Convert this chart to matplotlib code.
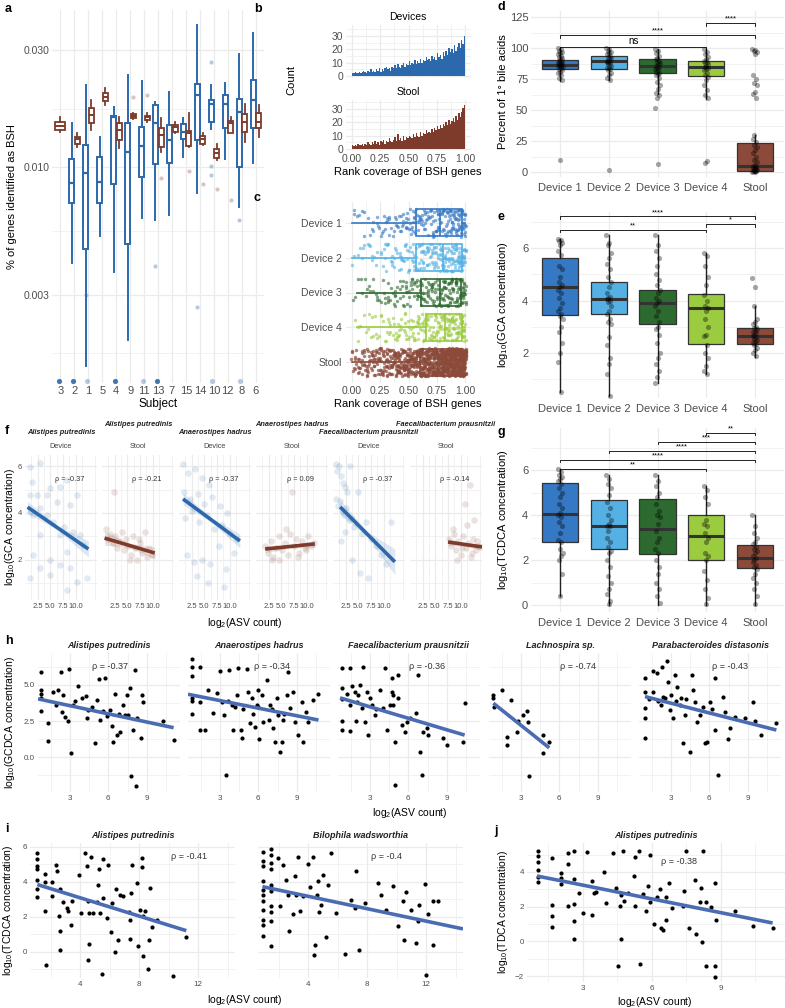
import numpy as np
import matplotlib
matplotlib.use('Agg')
import matplotlib.pyplot as plt
from matplotlib.ticker import NullFormatter

plt.rcParams['font.family'] = ['Liberation Sans', 'DejaVu Sans']
plt.rcParams['mathtext.fontset'] = 'custom'
plt.rcParams['mathtext.rm'] = 'Liberation Sans'
plt.rcParams['mathtext.default'] = 'regular'

# ---------------- data ----------------
# panel a: box stats per subject (device / stool), nan = no device box
a_subjects = ['3', '2', '1', '5', '4', '9', '11', '13', '7', '15', '14', '10', '12', '8', '6']
a_dev_lo = [np.nan, 0.00406, 0.00154, 0.00523, 0.00373, 0.00197, 0.0062, 0.00608, 0.00637, 0.0110, 0.00783, 0.0143, 0.0108, 0.00687, 0.0104]
a_dev_q1 = [np.nan, 0.00713, 0.00462, 0.00713, 0.00853, 0.00485, 0.0091, 0.01028, 0.0104, 0.0130, 0.0129, 0.0153, 0.0144, 0.0100, 0.0144]
a_dev_med = [np.nan, 0.0086, 0.00945, 0.00869, 0.0160, 0.0115, 0.0122, 0.0151, 0.0129, 0.0139, 0.0197, 0.0181, 0.0181, 0.0168, 0.0187]
a_dev_q3 = [np.nan, 0.01078, 0.0123, 0.0110, 0.0161, 0.0151, 0.01456, 0.0179, 0.0148, 0.0150, 0.0218, 0.0187, 0.0197, 0.0189, 0.0226]
a_dev_hi = [np.nan, 0.0151, 0.0216, 0.01325, 0.0176, 0.0238, 0.0224, 0.0184, 0.0202, 0.0159, 0.0380, 0.0216, 0.0220, 0.0289, 0.0352]
a_st_lo = [0.0139, 0.0121, 0.0142, 0.0179, 0.01196, 0.0157, 0.0152, 0.0115, 0.0138, 0.0121, 0.0123, 0.0107, 0.0138, 0.0126, 0.0133]
a_st_q1 = [0.01416, 0.0124, 0.0151, 0.0186, 0.0129, 0.0159, 0.0156, 0.01207, 0.0139, 0.0122, 0.0124, 0.0109, 0.0138, 0.0139, 0.0144]
a_st_med = [0.0147, 0.0130, 0.0163, 0.0193, 0.0142, 0.0161, 0.0160, 0.0135, 0.0146, 0.0138, 0.0130, 0.0114, 0.0151, 0.0153, 0.0153]
a_st_q3 = [0.0153, 0.01325, 0.0174, 0.0200, 0.0151, 0.0164, 0.0161, 0.0144, 0.0148, 0.0140, 0.0134, 0.01184, 0.0154, 0.0164, 0.0166]
a_st_hi = [0.0160, 0.0138, 0.0188, 0.0210, 0.0160, 0.0166, 0.0166, 0.0159, 0.0153, 0.0166, 0.0138, 0.0124, 0.0160, 0.0181, 0.0179]
a_dev_out = [('1', 0.0030), ('13', 0.00394), ('14', 0.00268), ('10', 0.0268), ('10', 0.0101), ('10', 0.0093), ('8', 0.00608)]
a_st_out = [('9', 0.0193), ('11', 0.0196), ('13', 0.00902), ('15', 0.00963), ('14', 0.0085), ('10', 0.0081), ('12', 0.00733)]
a_zero_subj = ['3', '2', '1', '4', '11', '13', '10', '8']
a_zero_dark = [True, True, False, True, False, True, False, False]

# panel b: histogram counts of rank coverage (80 bins on 0..1)
b_dev_counts = [2, 2, 3, 2, 2, 3, 2, 3, 4, 3, 2, 4, 3, 5, 3, 4, 3, 5, 4, 6, 3, 5, 4, 6, 7, 5, 6, 4, 7, 6,
                8, 6, 9, 7, 6, 8, 10, 7, 9, 8, 11, 8, 10, 9, 12, 9, 11, 10, 13, 10, 12, 11, 14, 12, 13, 11, 15, 13, 14, 12,
                17, 14, 16, 13, 18, 15, 19, 16, 21, 18, 20, 17, 23, 19, 22, 25, 21, 27, 24, 30]
b_stool_counts = [3, 2, 3, 2, 4, 3, 3, 4, 2, 4, 3, 5, 4, 3, 5, 4, 6, 4, 5, 3, 6, 5, 7, 4, 6, 5, 8, 6, 5, 7,
                  9, 6, 11, 7, 8, 6, 10, 7, 9, 8, 10, 9, 8, 11, 9, 12, 10, 9, 13, 10, 12, 11, 14, 12, 13, 12, 15, 13, 16, 14,
                  17, 15, 18, 16, 19, 17, 20, 18, 22, 19, 21, 23, 20, 25, 22, 27, 24, 28, 31, 33]

# panel c: horizontal box stats
c_groups = ['Device 1', 'Device 2', 'Device 3', 'Device 4', 'Stool']
c_lo = [0.0, 0.0, 0.05, 0.05, 0.0]
c_q1 = [0.57, 0.57, 0.61, 0.65, 0.6]
c_med = [0.78, 0.8, 0.78, 0.82, 0.8]
c_q3 = [0.97, 0.97, 0.96, 0.97, 0.97]
c_hi = [1.0, 1.0, 1.0, 1.0, 1.0]

# panels d, e, g
groups = ['Device 1', 'Device 2', 'Device 3', 'Device 4', 'Stool']
d_lo = [73.4, 74, 63, 59, 0]
d_q1 = [83, 83, 80, 77.4, 0.8]
d_med = [86.3, 89.5, 86, 84.7, 4.8]
d_q3 = [90.3, 93.5, 91, 89.5, 23.4]
d_hi = [100, 100, 99, 99, 30]
d_pts = [[100, 99, 98, 97, 96, 95, 94, 93, 92, 91, 90, 89.5, 89, 88, 88, 87.5, 87, 86.5, 86, 86, 85.5, 85, 84, 83, 82, 81, 80, 78, 76, 74.5, 9.5],
         [100, 99, 98, 97, 96, 95, 94, 93, 92, 91, 90, 89.5, 89, 88.5, 88, 87, 86, 85, 84, 83, 82, 80, 78, 76, 74.5, 1.5],
         [99, 98, 96, 94, 92, 91, 90, 89, 88, 87, 86, 85, 84, 83, 82, 81, 80, 79, 78, 76, 73, 70, 67, 64, 62, 60, 52, 6.5],
         [99, 97, 95, 93, 91, 90, 89, 88, 87, 86, 85, 84, 83, 82, 80, 78, 77, 74, 70, 66, 62, 59.5, 9, 7.5],
         [99, 98.5, 98, 97, 95, 78, 75, 72, 70, 65, 63, 60, 30, 27, 24, 22, 20, 18, 15, 12, 10, 8, 6, 5, 4, 3.5, 3, 2.5, 2, 1.5, 1, 1, 0.5, 0.5, 0.3, 0.2]]
d_brackets = [(0, 3, 101, 'ns'), (0, 4, 110.5, '****'), (3, 4, 120, '****')]

e_lo = [0.5, 0.38, 0.85, 1.2, 1.85]
e_q1 = [3.46, 3.5, 3.1, 2.35, 2.35]
e_med = [4.5, 4.05, 3.9, 3.7, 2.65]
e_q3 = [5.6, 4.7, 4.4, 4.25, 2.97]
e_hi = [6.35, 6.5, 6.5, 5.8, 3.8]
e_pts = [[6.35, 6.3, 6.25, 6.2, 6.1, 5.9, 5.75, 5.3, 5.2, 4.9, 4.7, 4.6, 4.5, 4.4, 4.3, 4.1, 3.9, 3.7, 3.6, 3.5, 3.4, 3.3, 3.0, 2.8, 2.4, 2.0, 1.65, 0.5],
         [6.5, 6.2, 6.1, 5.8, 5.6, 5.4, 5.2, 4.9, 4.7, 4.5, 4.3, 4.15, 4.1, 4.05, 4.0, 3.95, 3.8, 3.6, 3.5, 3.3, 3.2, 3.1, 2.6, 2.3, 1.8, 1.6, 1.2, 0.35],
         [6.5, 6.1, 5.9, 5.6, 5.3, 5.0, 4.8, 4.6, 4.4, 4.3, 4.1, 4.0, 3.9, 3.8, 3.6, 3.4, 3.2, 3.0, 2.9, 2.7, 2.4, 2.0, 1.8, 1.6, 1.3, 1.1, 0.85],
         [5.8, 5.7, 5.3, 4.9, 4.6, 4.2, 4.0, 3.8, 3.7, 3.6, 3.3, 3.0, 2.7, 2.65, 2.3, 2.0, 1.8, 1.5, 1.3, 1.2],
         [4.85, 4.5, 3.8, 3.3, 3.2, 3.1, 3.0, 2.95, 2.9, 2.85, 2.8, 2.75, 2.7, 2.65, 2.6, 2.55, 2.5, 2.45, 2.4, 2.35, 2.3, 2.2, 2.1, 2.0, 1.9]]
e_brackets = [(0, 3, 6.7, '**'), (3, 4, 6.9, '*'), (0, 4, 7.2, '****')]

g_lo = [0.4, 0.0, 0.0, 0.0, 0.0]
g_q1 = [2.78, 2.47, 2.25, 2.0, 1.64]
g_med = [4.06, 3.53, 3.4, 3.05, 2.1]
g_q3 = [5.43, 4.68, 4.7, 4.0, 2.65]
g_hi = [6.05, 5.8, 5.8, 5.3, 4.0]
g_pts = [[6.05, 5.9, 5.8, 5.7, 5.6, 5.5, 5.4, 5.2, 5.0, 4.8, 4.5, 4.3, 4.1, 4.0, 3.9, 3.7, 3.5, 3.2, 2.9, 2.8, 2.5, 2.3, 2.2, 2.0, 1.4, 0.4],
         [5.8, 5.6, 5.4, 5.2, 4.9, 4.6, 4.3, 4.0, 3.8, 3.6, 3.5, 3.5, 3.3, 3.0, 2.8, 2.6, 2.4, 2.3, 2.0, 1.7, 1.3, 1.0, 0.7, 0.5, 0.2, 0.05],
         [5.8, 5.5, 5.3, 5.0, 4.8, 4.5, 4.2, 4.0, 3.9, 3.6, 3.3, 3.0, 2.8, 2.5, 2.3, 2.0, 1.7, 1.4, 1.0, 0.7, 0.4, 0.1],
         [5.3, 5.1, 4.8, 4.5, 3.8, 3.6, 3.5, 3.2, 3.0, 2.8, 2.3, 2.2, 2.0, 1.5, 1.1, 0.7, 0.3, 0.05],
         [4.0, 3.5, 3.2, 3.0, 2.8, 2.7, 2.6, 2.5, 2.4, 2.3, 2.2, 2.1, 2.0, 1.9, 1.8, 1.7, 1.6, 1.4, 1.2, 1.0, 0.7, 0.4, 0.05]]
g_brackets = [(0, 3, 6.05, '**'), (0, 4, 6.45, '****'), (1, 4, 6.85, '****'), (2, 4, 7.25, '***'), (3, 4, 7.65, '**')]

# panel f: six facets (species x source)
f_species = ['Alistipes putredinis', 'Alistipes putredinis', 'Anaerostipes hadrus',
             'Anaerostipes hadrus', 'Faecalibacterium prausnitzii', 'Faecalibacterium prausnitzii']
f_source = ['Device', 'Stool', 'Device', 'Stool', 'Device', 'Stool']
f_rho = ['ρ = -0.37', 'ρ = -0.21', 'ρ = -0.37', 'ρ = 0.09', 'ρ = -0.37', 'ρ = -0.14']
f1_pts = [(1.0, 5.99), (1.3, 5.35), (1.0, 4.77), (2.3, 4.77), (2.9, 6.14), (4.3, 4.77), (4.9, 5.06), (6.9, 5.13), (8.2, 5.42),
          (1.0, 4.06), (1.6, 3.91), (2.9, 4.2), (4.3, 3.91), (5.6, 3.63), (7.6, 3.41), (8.9, 4.34), (9.5, 3.2), (10.8, 3.05),
          (11.5, 2.62), (1.6, 2.19), (2.9, 1.62), (4.9, 1.33), (6.9, 1.76), (8.2, 2.34), (8.9, 1.62), (1.0, 1.19), (10.2, 1.05),
          (12.2, 1.19), (8.2, 0.69), (4.9, 1.98), (6.9, 3.05), (10.2, 4.77), (2.9, 3.05), (6.3, 4.49)]
f2_pts = [(0.8, 3.3), (1.2, 2.9), (1.6, 3.1), (2.1, 2.7), (2.6, 3.0), (3.0, 2.5), (3.4, 2.8), (3.9, 3.2), (4.3, 2.4), (4.8, 2.9),
          (5.2, 2.6), (5.7, 2.2), (6.1, 3.0), (6.6, 2.5), (7.0, 2.0), (7.5, 2.7), (7.9, 2.3), (8.4, 3.2), (8.8, 2.1), (9.3, 2.5),
          (9.8, 2.2), (2.4, 4.9), (5.5, 2.0), (7.2, 2.9)]
f3_pts = [(0.8, 6.1), (1.8, 5.7), (3.2, 5.9), (4.5, 5.5), (6.0, 5.2), (1.0, 4.9), (2.2, 4.6), (3.8, 4.8), (5.0, 4.4), (6.5, 4.7),
          (8.0, 4.3), (9.5, 4.0), (1.2, 3.8), (2.6, 4.1), (4.0, 3.6), (5.5, 3.9), (7.0, 3.3), (8.5, 3.5), (10.0, 3.1), (11.5, 2.9),
          (1.5, 2.2), (3.0, 1.9), (4.6, 2.0), (6.2, 1.8), (7.8, 2.6), (9.2, 1.6), (10.8, 2.3), (3.5, 1.3), (5.8, 1.0), (8.8, 0.8)]
f4_pts = [(1.8, 2.6), (2.3, 2.3), (2.9, 2.8), (3.4, 2.1), (4.0, 2.5), (4.6, 3.0), (5.1, 2.4), (5.7, 2.7), (6.3, 2.2), (6.8, 3.1),
          (7.4, 2.6), (7.9, 2.9), (8.5, 2.3), (9.1, 2.8), (9.6, 2.5), (10.2, 3.0), (10.8, 2.6), (11.4, 2.7), (3.2, 2.0), (6.0, 3.3),
          (8.2, 2.1), (4.5, 2.0), (7.1, 4.9), (9.9, 2.4)]
f5_pts = [(0.5, 6.1), (0.8, 5.8), (1.2, 6.0), (1.5, 5.6), (1.9, 5.3), (2.3, 5.1), (2.8, 4.9), (3.3, 6.0), (0.6, 4.6), (1.0, 4.3),
          (1.4, 4.5), (1.8, 4.1), (2.2, 3.9), (2.6, 4.2), (3.1, 3.7), (3.6, 3.8), (4.2, 3.4), (5.0, 4.9), (5.8, 3.1), (6.6, 3.6),
          (7.5, 2.9), (8.5, 2.6), (9.5, 2.2), (10.5, 1.8), (11.5, 3.6), (3.8, 2.0), (5.4, 1.4), (7.0, 1.2), (1.6, 2.8), (2.4, 3.2)]
f6_pts = [(7.6, 2.9), (8.1, 2.6), (8.6, 3.1), (9.0, 2.4), (9.5, 2.8), (10.0, 2.2), (10.5, 3.0), (11.0, 2.5), (11.5, 2.7), (12.0, 2.1),
          (12.5, 2.9), (13.0, 2.4), (13.5, 2.6), (8.4, 3.3), (9.3, 2.0), (10.2, 2.5), (11.2, 3.5), (12.2, 2.3), (13.2, 2.8), (10.8, 4.4),
          (11.8, 5.2), (12.7, 3.7)]
f_lines = [(0.5, 4.25, 12.5, 2.45), (0.5, 2.92, 10.4, 2.28), (0.8, 4.6, 12.0, 2.8),
           (1.8, 2.45, 11.6, 2.67), (1.4, 4.26, 12.2, 1.9), (7.5, 2.75, 14.2, 2.54)]
f_band = [(0.25, 0.1, 0.35), (0.3, 0.1, 0.25), (0.25, 0.1, 0.3), (0.15, 0.07, 0.15), (0.3, 0.12, 0.55), (0.15, 0.08, 0.15)]

# panel h: GCDCA vs ASV count
h_species = ['Alistipes putredinis', 'Anaerostipes hadrus', 'Faecalibacterium prausnitzii', 'Lachnospira sp.', 'Parabacteroides distasonis']
h_rho = ['ρ = -0.37', 'ρ = -0.34', 'ρ = -0.36', 'ρ = -0.74', 'ρ = -0.43']
h_rho_x = [6.1, 7.06, 7.5, 7.45, 7.6]
h1_pts = [(0.71, 5.86), (0.71, 4.65), (0.71, 4.35), (0.71, 4.07), (0.71, 3.19), (1.31, 2.34), (1.31, 1.13), (1.70, 4.54), (2.09, 4.65),
          (2.30, 5.88), (2.35, 3.10), (2.48, 4.31), (2.61, 2.80), (2.87, 2.50), (2.95, 6.11), (3.08, 0.32), (3.26, 3.61), (3.65, 4.95),
          (3.91, 4.07), (4.25, 4.24), (4.35, 2.69), (4.43, 3.26), (4.95, 0.95), (5.08, 3.96), (5.27, 5.39), (5.34, 2.57), (5.73, 5.46),
          (5.86, 2.87), (6.13, 3.26), (6.26, 2.18), (6.39, 1.06), (6.52, 4.35), (6.65, 1.53), (6.91, 1.76), (7.17, 3.61), (7.30, 2.92),
          (7.43, 4.31), (7.56, 2.92), (7.69, 4.81), (7.77, -1.32), (7.95, 1.88), (8.08, 6.04), (8.16, -1.99), (8.21, 2.69), (8.55, 1.30),
          (8.60, 4.31), (8.68, 3.80), (10.29, 2.50), (11.15, 1.18), (1.9, 3.6), (3.4, 3.9), (4.7, 3.5), (5.6, 3.2), (6.8, 3.0)]
h2_pts = [(0.79, 6.78), (0.79, 6.20), (0.79, 5.63), (0.79, 4.07), (0.79, 3.89), (0.79, 2.99), (1.44, 6.20), (1.44, 3.84), (1.44, 1.88),
          (1.83, 1.88), (2.09, 4.65), (2.48, 3.03), (2.74, 4.42), (3.00, 5.93), (3.13, 3.84), (3.34, 2.92), (3.47, -1.25), (3.73, 6.04),
          (3.91, 3.61), (4.04, 1.88), (4.30, 4.31), (4.43, 6.16), (4.61, 1.88), (4.69, 1.30), (5.08, 6.11), (5.21, 4.49), (5.34, 2.34),
          (5.47, 4.07), (5.73, 2.11), (5.86, 3.61), (5.99, 4.65), (6.07, 1.25), (6.26, 4.31), (6.39, 2.45), (6.65, 5.35), (6.91, 3.61),
          (7.17, 1.99), (7.30, 1.06), (7.43, 4.07), (7.56, 2.92), (7.69, 0.37), (7.82, 1.06), (7.95, 2.57), (8.21, 4.31), (8.34, 5.88),
          (8.73, 4.54), (8.86, 2.45), (9.12, 1.53), (9.38, 3.84), (9.51, 1.06), (9.90, 2.45), (10.29, 3.96), (10.68, 4.35),
          (4.8, 3.3), (5.6, 3.0), (6.0, 3.5), (6.8, 2.6), (7.1, 3.3), (8.0, 3.0), (8.5, 3.4), (9.7, 3.1), (3.6, 3.9), (4.2, 3.5)]
h3_pts = [(0.79, 6.16), (0.79, 4.77), (0.79, 4.03), (0.79, 2.50), (0.79, 1.88), (1.44, 6.16), (1.44, 3.61), (1.44, 1.81), (1.83, 4.54),
          (1.91, 2.50), (2.09, 4.31), (2.22, 5.00), (2.48, 6.20), (2.61, 2.45), (2.74, 4.54), (2.87, 1.53), (3.13, 3.61), (3.39, 2.92),
          (3.78, 4.65), (4.04, 3.38), (4.17, 6.16), (4.30, 1.88), (4.56, 3.61), (4.82, 4.31), (4.95, -1.94), (5.21, 5.69), (4.69, 5.46),
          (4.69, 4.54), (4.82, 3.61), (4.95, 1.06), (5.21, 4.07), (5.47, 2.22), (5.73, 1.76), (5.86, 2.45), (6.13, 2.69), (6.60, 3.03),
          (6.78, 5.69), (6.91, 0.37), (7.04, -1.25), (7.17, 1.76), (7.43, 1.99), (7.56, 1.53), (8.73, 1.30), (8.99, 0.88), (10.29, 1.06),
          (10.42, 3.73), (1.2, 4.4), (2.0, 3.8), (3.0, 4.1), (3.5, 3.3), (2.4, 3.4), (1.6, 4.9)]
h4_pts = [(0.84, 4.31), (0.84, 4.07), (0.89, 3.50), (1.49, 4.65), (1.88, 1.41), (1.88, 0.88), (2.19, 3.96), (2.66, 1.76), (2.79, 2.50),
          (3.18, 2.92), (3.44, 3.19), (3.52, 2.45), (3.65, -1.30), (4.69, 1.57), (4.69, 0.32), (5.21, 1.06)]
h5_pts = [(0.97, 5.46), (0.97, 4.54), (0.97, 3.38), (0.97, 2.69), (0.97, 1.30), (1.57, 5.97), (1.62, 4.54), (1.88, 5.81), (2.27, 6.20),
          (2.34, 4.19), (2.66, 6.62), (2.79, 5.23), (2.92, 3.26), (3.18, 2.69), (3.31, 5.69), (3.49, 4.88), (3.70, 3.61), (3.96, 0.95),
          (4.09, 2.92), (4.48, 0.37), (4.61, 5.69), (4.74, 4.65), (4.87, 3.84), (5.00, 2.45), (5.26, 2.92), (5.65, 0.95), (5.78, 1.06),
          (6.04, 3.84), (6.43, 5.46), (6.43, 1.88), (6.69, -1.25), (7.08, 4.19), (7.21, 3.15), (7.47, 1.25), (7.60, 1.99), (7.99, 2.80),
          (8.77, 2.69), (9.42, 3.84), (9.55, 2.50), (10.07, 1.53), (11.24, 2.34), (1.3, 4.0), (2.0, 3.9), (2.5, 4.1), (3.0, 4.3),
          (3.4, 3.9), (4.2, 4.0), (5.5, 3.5), (6.2, 3.3), (2.2, 3.6), (3.8, 4.1)]
h_lines = [(0.5, 4.03, 11.1, 2.04), (0.5, 4.35, 10.7, 2.57), (0.66, 4.1, 10.4, 1.53), (0.84, 3.73, 5.21, 0.65), (0.97, 4.19, 11.24, 1.88)]

# panel i: TCDCA vs ASV count
i_species = ['Alistipes putredinis', 'Bilophila wadsworthia']
i_rho = ['ρ = -0.41', 'ρ = -0.4']
i_rho_x = [11.4, 9.3]
i1_pts = [(1.07, 5.64), (1.07, 5.31), (1.07, 4.88), (1.07, 4.69), (1.07, 4.11), (1.07, 3.60), (1.07, 3.10), (1.64, 4.46), (1.64, 3.98),
          (1.64, 2.30), (1.68, -0.78), (2.09, 3.98), (2.09, 3.16), (2.38, 4.97), (2.42, 4.59), (2.54, 2.06), (2.65, 1.20), (2.65, 0.11),
          (2.65, 3.60), (2.87, 2.84), (3.10, 2.50), (3.17, 2.30), (3.37, 1.54), (3.44, 2.88), (3.89, 4.36), (4.07, 2.21), (4.34, 5.64),
          (4.45, 4.88), (4.50, 2.88), (4.56, -0.46), (4.59, 0.44), (4.63, 2.21), (4.72, 5.39), (4.90, 2.21), (5.13, 2.82), (5.24, 3.83),
          (5.28, 4.74), (5.35, 2.21), (5.46, -1.28), (5.53, 3.07), (5.58, 5.26), (5.80, 1.92), (5.91, 4.97), (6.09, 1.10), (6.14, 2.78),
          (6.36, -0.04), (6.43, 3.58), (6.59, 0.69), (6.70, 3.26), (6.93, 3.16), (7.33, 2.27), (7.38, 1.83), (7.38, 0.72), (7.42, 3.35),
          (7.49, 4.97), (7.87, 3.92), (7.94, 0.30), (8.05, 2.40), (8.17, 5.35), (8.17, 4.82), (8.28, -0.23), (8.28, 2.02), (8.39, 2.30),
          (8.62, -0.97), (8.68, 0.69), (8.77, 3.64), (8.84, 1.39), (9.18, 1.83), (10.31, -1.41), (11.21, 0.82)]
i2_pts = [(0.91, 5.70), (0.91, 5.16), (0.91, 4.88), (0.91, 4.02), (0.91, 3.54), (0.91, 3.26), (0.91, 2.91), (0.91, 2.40), (0.91, 1.83),
          (0.91, 1.54), (0.91, 0.88), (1.48, 5.83), (1.48, 5.54), (1.48, 5.07), (1.48, 4.74), (1.48, 3.83), (1.48, 3.45), (1.48, 2.59),
          (1.48, 2.27), (1.48, 1.77), (1.48, 0.30), (1.93, 5.35), (2.09, 2.59), (2.31, 4.97), (2.49, 4.11), (2.65, 3.26), (2.72, 1.20),
          (2.99, 2.15), (3.10, 4.30), (3.21, 3.26), (3.32, 5.39), (3.44, 2.34), (3.66, 3.16), (4.00, 5.01), (4.11, 3.68), (4.34, 5.39),
          (4.38, -0.21), (4.45, 0.40), (4.61, 3.22), (4.68, 4.02), (4.74, 2.25), (4.90, 2.69), (5.01, 4.40), (5.24, 0.82), (5.35, 3.83),
          (5.58, 5.64), (5.87, 2.21), (6.48, -0.13), (6.93, 2.97), (7.15, 2.50), (7.27, 4.59), (7.45, 0.11), (7.83, 2.78), (8.73, 3.92),
          (8.95, 3.26), (9.29, 2.40), (9.74, 3.73), (10.08, 1.45), (10.42, 2.88), (10.53, 0.69), (10.64, 3.41), (10.98, 2.40),
          (11.32, 0.50), (11.43, 1.73), (11.55, 2.65), (11.95, 3.87), (12.00, -1.31), (12.11, 2.15), (12.45, 0.36), (12.49, 2.88), (12.78, 2.91)]
i_lines = [(1.1, 3.83, 11.2, 1.2), (0.9, 3.71, 14.5, 1.3)]

# panel j: TDCA vs ASV count
j_pts = [(1.06, 5.21), (1.06, 4.92), (1.06, 4.60), (1.06, 4.12), (1.06, 3.73), (1.06, 3.40), (1.64, 4.79), (1.64, 2.10), (1.64, 1.48),
         (1.64, 0.85), (2.04, 3.92), (2.04, 3.63), (2.04, 3.29), (2.36, 5.08), (2.36, 4.44), (2.36, 2.04), (2.62, 5.21), (2.62, 3.60),
         (2.62, 2.14), (2.62, 1.19), (2.62, 0.14), (2.84, 2.77), (3.01, 1.62), (3.20, 5.17), (3.38, 3.48), (3.38, 1.52), (3.48, 2.81),
         (3.59, 2.83), (3.93, 4.02), (4.03, 2.23), (4.32, 5.08), (4.46, 3.06), (4.51, -1.40), (4.61, 2.04), (4.64, 0.14), (4.68, 2.67),
         (4.75, 5.21), (4.78, 2.33), (4.97, 2.77), (5.23, 3.77), (5.29, 4.85), (5.29, 2.06), (5.45, 5.21), (5.48, -1.32), (5.62, 2.71),
         (5.77, 1.75), (5.84, 3.21), (5.91, 2.29), (5.94, 4.98), (6.09, 1.00), (6.23, 2.58), (6.35, 3.00), (6.39, 0.75), (6.49, 0.66),
         (6.61, 1.23), (6.64, 2.58), (6.75, 3.35), (6.90, 1.91), (7.36, 2.04), (7.41, 2.92), (7.51, 5.23), (7.62, 0.75), (7.87, 3.54),
         (7.94, 0.41), (8.09, 2.25), (8.16, 3.06), (8.20, -0.02), (8.23, 5.21), (8.35, -1.40), (8.38, 2.25), (8.59, 2.00), (8.74, 3.35),
         (8.74, -1.40), (8.77, -2.03), (8.81, 1.23), (9.61, 1.77), (10.41, 0.91), (11.28, 0.79)]
j_line = (1.0, 3.77, 11.26, 1.06)

# ---------------- styling helpers ----------------
W, H = 785, 1008
BLUE = '#2B69AC'
BROWN = '#7E3A2A'
FIT = '#4A6CB3'
FILLS = ['#3578C3', '#55B1E4', '#2D6A2F', '#9BCB3F', '#8B4A3A']
GRID = '#EBEBEB'
TXT = '#4D4D4D'

fig = plt.figure(figsize=(W / 100, H / 100), dpi=100)


def add_ax(l, t, r, b):
    return fig.add_axes([l / W, 1 - b / H, (r - l) / W, (b - t) / H])


def ftext(x, y, s, **kw):
    kw.setdefault('ha', 'center')
    kw.setdefault('va', 'center')
    fig.text(x / W, 1 - y / H, s, **kw)


def minimal(ax, size=7):
    ax.set_facecolor('white')
    for s in ax.spines.values():
        s.set_visible(False)
    ax.tick_params(which='both', length=0, labelsize=size, colors=TXT, pad=2)
    ax.grid(True, which='major', color=GRID, lw=0.9)
    ax.grid(True, which='minor', color=GRID, lw=0.45)
    ax.set_axisbelow(True)


def jit(n, k):
    return (np.arange(n) * k) % 1.0 - 0.5


def scatter_off(n, seed):
    # deterministic hash-like offsets in [-0.5, 0.5) for jittered positions
    v = np.sin((np.arange(n) + 1) * seed) * 43758.5453
    return v - np.floor(v) - 0.5


def make_stats(lo, q1, med, q3, hi):
    return [dict(whislo=a, q1=b, med=c, q3=d, whishi=e, fliers=[]) for a, b, c, d, e in zip(lo, q1, med, q3, hi)]


# panel letters
for x, y, s in [(5, 9, 'a'), (254, 9, 'b'), (254, 198, 'c'), (497, 7, 'd'), (497, 217, 'e'),
                (5, 431, 'f'), (497, 432, 'g'), (5, 641, 'h'), (5, 829, 'i'), (494, 831, 'j')]:
    ftext(x, y, s, fontsize=9, fontweight='bold', ha='left')

# ---------------- a ----------------
ax = add_ax(52, 10, 264, 383)
minimal(ax, 7.5)
ax.set_yscale('log')
xi = {s: i for i, s in enumerate(a_subjects)}
has_dev = [not np.isnan(v) for v in a_dev_med]
dev_idx = [i for i in range(len(a_subjects)) if has_dev[i]]
dev_stats = make_stats(*[[arr[i] for i in dev_idx] for arr in (a_dev_lo, a_dev_q1, a_dev_med, a_dev_q3, a_dev_hi)])
ax.bxp(dev_stats, positions=[i - 0.18 for i in dev_idx], widths=0.36, showcaps=False, showfliers=False,
       manage_ticks=False, patch_artist=True, boxprops=dict(facecolor='white', edgecolor=BLUE, lw=1.4),
       whiskerprops=dict(color=BLUE, lw=1.4), medianprops=dict(color=BLUE, lw=1.6))
st_stats = make_stats(a_st_lo, a_st_q1, a_st_med, a_st_q3, a_st_hi)
ax.bxp(st_stats, positions=[i + 0.22 if has_dev[i] else i for i in range(len(a_subjects))],
       widths=[0.36 if has_dev[i] else 0.7 for i in range(len(a_subjects))], showcaps=False, showfliers=False,
       manage_ticks=False, patch_artist=True, boxprops=dict(facecolor='white', edgecolor=BROWN, lw=1.3),
       whiskerprops=dict(color=BROWN, lw=1.3), medianprops=dict(color=BROWN, lw=1.4))
ax.scatter([xi[s] - 0.18 for s, v in a_dev_out], [v for s, v in a_dev_out], s=9, color=BLUE, alpha=0.35, lw=0, zorder=4)
ax.scatter([xi[s] + 0.22 for s, v in a_st_out], [v for s, v in a_st_out], s=9, color=BROWN, alpha=0.3, lw=0, zorder=4)
for s, dark in zip(a_zero_subj, a_zero_dark):
    ax.scatter([xi[s] - 0.1], [0.00134], s=14, color=BLUE, alpha=0.9 if dark else 0.35, lw=0, zorder=4, clip_on=False)
ax.set_ylim(0.00131, 0.0437)
ax.set_xlim(-0.6, len(a_subjects) - 0.4)
ax.set_yticks([0.003, 0.01, 0.03])
ax.set_yticklabels(['0.003', '0.010', '0.030'])
ax.set_yticks([0.00173, 0.00548, 0.0173], minor=True)
ax.yaxis.set_minor_formatter(NullFormatter())
ax.set_xticks(range(len(a_subjects)))
ax.set_xticklabels(a_subjects, fontsize=8)
ax.set_xticks([], minor=True)
ax.tick_params(axis='x', pad=2)
ftext(12, 197, '% of genes identified as BSH', rotation=90, fontsize=8)
ftext(158, 404, 'Subject', fontsize=8.5)

# ---------------- b ----------------
edges = np.linspace(0, 1, len(b_dev_counts) + 1)
centers = (edges[:-1] + edges[1:]) / 2
bw = edges[1] - edges[0]
for (t, b_, counts, col, ylo, yhi, title, ty) in [(25, 78, b_dev_counts, BLUE, -1.5, 38.25, 'Devices', 17),
                                                  (100, 151, b_stool_counts, BROWN, -1.5, 36.75, 'Stool', 92)]:
    ax = add_ax(346, t, 471, b_)
    minimal(ax, 7.5)
    ax.bar(centers, counts, width=bw, color=col, lw=0)
    ax.set_xlim(-0.05, 1.05)
    ax.set_ylim(ylo, yhi)
    ax.set_yticks([0, 10, 20, 30])
    ax.set_yticks([5, 15, 25, 35], minor=True)
    ax.set_xticks([0, 0.25, 0.5, 0.75, 1.0])
    ax.set_xticks([0.125, 0.375, 0.625, 0.875], minor=True)
    if title == 'Devices':
        ax.set_xticklabels([])
    else:
        ax.set_xticklabels(['0.00', '0.25', '0.50', '0.75', '1.00'])
    ftext(408, ty, title, fontsize=7.5)
ftext(291, 80, 'Count', rotation=90, fontsize=8)
ftext(408, 172, 'Rank coverage of BSH genes', fontsize=8)

# ---------------- c ----------------
ax = add_ax(346, 202, 471, 383)
minimal(ax, 7.5)
# points come from the histogram bins above; devices split in turn over the four devices
dev_x = np.repeat(centers, b_dev_counts)
dev_grp = np.arange(len(dev_x)) % 4
for g in range(4):
    xs = dev_x[dev_grp == g]
    n = len(xs)
    ax.scatter(xs + scatter_off(n, 12.9898 + g) * bw * 2, g + 1 + scatter_off(n, 78.233 + g) * 0.8,
               s=6, color=FILLS[g], alpha=0.6, lw=0)
st_x = np.repeat(centers, b_stool_counts)
n = len(st_x)
ax.scatter(st_x + scatter_off(n, 39.3468) * bw * 2, 5 + scatter_off(n, 11.135) * 0.8, s=6, color=FILLS[4], alpha=0.7, lw=0)
cstats = make_stats(c_lo, c_q1, c_med, c_q3, c_hi)
for k in range(5):
    ax.bxp([cstats[k]], positions=[k + 1], widths=0.78, orientation='horizontal', showcaps=False, showfliers=False,
           manage_ticks=False, patch_artist=True, boxprops=dict(facecolor='none', edgecolor=FILLS[k], lw=1.2),
           whiskerprops=dict(color=FILLS[k], lw=1.2), medianprops=dict(color=FILLS[k], lw=1.2))
ax.set_xlim(-0.05, 1.05)
ax.set_ylim(5.6, 0.4)
ax.set_xticks([0, 0.25, 0.5, 0.75, 1.0])
ax.set_xticks([0.125, 0.375, 0.625, 0.875], minor=True)
ax.set_xticklabels(['0.00', '0.25', '0.50', '0.75', '1.00'])
ax.set_yticks(range(1, 6))
ax.set_yticklabels(c_groups, fontsize=7.5)
ax.tick_params(axis='y', pad=3)
ftext(408, 404, 'Rank coverage of BSH genes', fontsize=8)


# ---------------- d, e, g ----------------
def box_panel(t, b_, lo, q1, med, q3, hi, pts, brackets, ylim, yt, ymin, tick, ylabel, ylab_y):
    ax = add_ax(531, t, 784, b_)
    minimal(ax, 8)
    bp = ax.bxp(make_stats(lo, q1, med, q3, hi), positions=range(5), widths=0.75, showcaps=False, showfliers=False,
                manage_ticks=False, patch_artist=True, boxprops=dict(edgecolor='#333333', lw=0.9),
                whiskerprops=dict(color='#222222', lw=1.0), medianprops=dict(color='#333333', lw=2.2))
    for patch, col in zip(bp['boxes'], FILLS):
        patch.set_facecolor(col)
    for k, vals in enumerate(pts):
        ax.scatter(k + jit(len(vals), 0.6180339) * 0.1, vals, s=14, color='black', alpha=0.35, lw=0, zorder=5)
    for x1, x2, y, s in brackets:
        ax.plot([x1, x1, x2, x2], [y - tick, y, y, y - tick], color='black', lw=0.6, clip_on=False, zorder=6)
        ax.text((x1 + x2) / 2, y + tick * 0.2, s, ha='center', va='bottom', fontsize=7 if s == 'ns' else 5.5,
                clip_on=False)
    ax.set_xlim(-0.6, 4.6)
    ax.set_ylim(*ylim)
    ax.set_xticks(range(5))
    ax.set_xticklabels(groups)
    ax.tick_params(axis='x', pad=4)
    ax.set_yticks(yt)
    ax.set_yticks(ymin, minor=True)
    ax.set_xticks([], minor=True)
    ftext(503, ylab_y, ylabel, rotation=90, fontsize=8)
    return ax


box_panel(11, 177, d_lo, d_q1, d_med, d_q3, d_hi, d_pts, d_brackets, (-4, 130),
          [0, 25, 50, 75, 100, 125], [12.5, 37.5, 62.5, 87.5, 112.5], 2.5, 'Percent of 1° bile acids', 92)
box_panel(212, 398, e_lo, e_q1, e_med, e_q3, e_hi, e_pts, e_brackets, (0.29, 7.37),
          [2, 4, 6], [1, 3, 5, 7], 0.1, 'log$_{10}$(GCA concentration)', 305)
box_panel(428, 612, g_lo, g_q1, g_med, g_q3, g_hi, g_pts, g_brackets, (-0.31, 7.87),
          [0, 2, 4, 6], [1, 3, 5, 7], 0.1, 'log$_{10}$(TCDCA concentration)', 520)

# ---------------- f ----------------
f_pts = [f1_pts, f2_pts, f3_pts, f4_pts, f5_pts, f6_pts]
for k in range(6):
    l = 25 + 77 * k
    ax = add_ax(l, 455, l + 72, 600)
    minimal(ax, 5.5)
    col = BLUE if f_source[k] == 'Device' else BROWN
    ax.set_xlim(0, 14.2)
    ax.set_ylim(0.26, 6.49)
    ax.set_xticks([2.5, 5, 7.5, 10])
    ax.set_xticklabels(['2.5', '5.0', '7.5', '10.0'])
    ax.set_xticks([1.25, 3.75, 6.25, 8.75, 11.25, 13.75], minor=True)
    ax.set_yticks([2, 4, 6])
    ax.set_yticks([1, 3, 5], minor=True)
    if k > 0:
        ax.set_yticklabels([])
    ax.scatter([p[0] for p in f_pts[k]], [p[1] for p in f_pts[k]], s=22, color=col, alpha=0.14, lw=0)
    x0, y0, x1, y1 = f_lines[k]
    xm, ym = (x0 + x1) / 2, (y0 + y1) / 2
    w0, wm, w1 = f_band[k]
    ax.fill_between([x0, xm, x1], [y0 - w0, ym - wm, y1 - w1], [y0 + w0, ym + wm, y1 + w1], color=col, alpha=0.15, lw=0)
    ax.plot([x0, x1], [y0, y1], color=col, lw=2.6, solid_capstyle='butt')
    ax.text(8.8, 5.45, f_rho[k], ha='center', va='center', fontsize=5.3, color='#333333')
    ftext(l + 36, 433 if k % 2 == 0 else 425, f_species[k], fontsize=5.3, fontweight='bold', style='italic',
          color='#222222')
    ftext(l + 36, 447, f_source[k], fontsize=5.3, color='#444444')
ftext(10, 527, 'log$_{10}$(GCA concentration)', rotation=90, fontsize=7.5)
ftext(245, 623, 'log$_2$(ASV count)', fontsize=7.5)


# ---------------- h, i, j ----------------
def scatter_panel(l, t, r, b_, pts, line, xlim, ylim, xt, xtm, yt, ytm, show_y, title, rho, rho_xy, size=5.8):
    ax = add_ax(l, t, r, b_)
    minimal(ax, size)
    ax.set_xlim(*xlim)
    ax.set_ylim(*ylim)
    ax.set_xticks(xt)
    ax.set_xticks(xtm, minor=True)
    ax.set_yticks(yt)
    ax.set_yticks(ytm, minor=True)
    if not show_y:
        ax.set_yticklabels([])
    ax.scatter([p[0] for p in pts], [p[1] for p in pts], s=9, color='black', lw=0, zorder=3)
    ax.plot([line[0], line[2]], [line[1], line[3]], color=FIT, lw=2.6, zorder=4, solid_capstyle='butt')
    ax.text(rho_xy[0], rho_xy[1], rho, ha='center', va='center', fontsize=6.5, color='#333333')
    ftext((l + r) / 2, t - 7, title, fontsize=6.5, fontweight='bold', style='italic', color='#222222')
    return ax


h_pts = [h1_pts, h2_pts, h3_pts, h4_pts, h5_pts]
for k, l in enumerate([38, 188, 338, 489, 639]):
    ax = scatter_panel(l, 653, l + 142, 792, h_pts[k], h_lines[k], (0.5, 11.6), (-2.4, 7.2), [3, 6, 9], [1.5, 4.5, 7.5, 10.5],
                       [0, 2.5, 5], [-1.25, 1.25, 3.75, 6.25], k == 0, h_species[k], h_rho[k], (h_rho_x[k], 6.3))
    if k == 0:
        ax.set_yticklabels(['0.0', '2.5', '5.0'])
ftext(10, 722, 'log$_{10}$(GCDCA concentration)', rotation=90, fontsize=7.5)
ftext(410, 813, 'log$_2$(ASV count)', fontsize=7.5)

i_pts = [i1_pts, i2_pts]
for k, l in enumerate([30, 258]):
    scatter_panel(l, 843, l + 205, 978, i_pts[k], i_lines[k], (0.6, 14.5), (-1.5, 6.2), [4, 8, 12], [2, 6, 10, 14],
                  [0, 2, 4, 6], [-1, 1, 3, 5], k == 0, i_species[k], i_rho[k], (i_rho_x[k], 5.43))
ftext(8, 910, 'log$_{10}$(TCDCA concentration)', rotation=90, fontsize=7.5)
ftext(245, 1000, 'log$_2$(ASV count)', fontsize=7.5)

scatter_panel(527, 843, 785, 982, j_pts, j_line, (0.57, 11.8), (-2.34, 5.67), [3, 6, 9], [1.5, 4.5, 7.5, 10.5],
              [-2, 0, 2, 4], [-1, 1, 3, 5], True, 'Alistipes putredinis', 'ρ = -0.38', (7.2, 4.58))
ftext(503, 912, 'log$_{10}$(TDCA concentration)', rotation=90, fontsize=7.5)
ftext(655, 1002, 'log$_2$(ASV count)', fontsize=7.5)

fig.savefig('out.png', dpi=100, facecolor='white')
